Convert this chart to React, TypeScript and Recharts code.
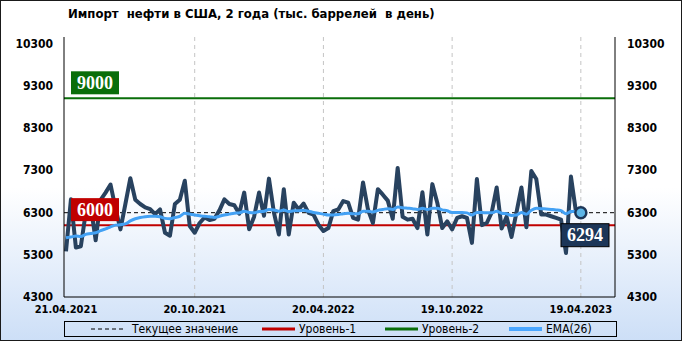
import React from "react";
import {
  LineChart,
  Line,
  XAxis,
  YAxis,
  CartesianGrid,
  ReferenceLine,
  ReferenceDot,
} from "recharts";

// weekly US crude imports, thousand barrels/day
const importValues = [
  5380, 6610, 5470, 5500, 6300, 6450, 5640, 6600, 6770, 6960,
  6400, 5900, 6500, 7110, 6600, 6500, 6420, 6380, 6260, 6370,
  5820, 5750, 6500, 6600, 7050, 5980, 5820, 6050, 6180, 6120,
  6150, 6350, 6610, 6500, 6470, 6270, 6770, 5900, 6200, 6770,
  6220, 7100, 6300, 5780, 6850, 5780, 6530, 6370, 6510, 6290,
  6250, 6010, 5860, 5930, 6330, 6370, 6570, 6530, 6170, 6130,
  7010, 6370, 6050, 6850, 6720, 6580, 6150, 7350, 6200, 6130,
  6150, 5930, 6780, 5780, 6970, 6530, 5930, 6090, 5900, 6170,
  6210, 6170, 5580, 7090, 6000, 6050, 6300, 6890, 5920, 6200,
  5720, 6300, 6890, 5950, 7280, 7090, 6250, 6250, 6210, 6170,
  6130, 5340, 7150, 6330, 6294,
];

// EMA(26) as drawn
const emaValues = [
  5700, 5720, 5740, 5730, 5780, 5800, 5820, 5870, 5910, 5960,
  6000, 6010, 6030, 6100, 6150, 6180, 6200, 6210, 6210, 6200,
  6160, 6150, 6180, 6210, 6280, 6260, 6240, 6220, 6210, 6200,
  6180, 6210, 6240, 6260, 6280, 6290, 6330, 6300, 6290, 6320,
  6330, 6370, 6360, 6330, 6360, 6320, 6340, 6340, 6350, 6330,
  6300, 6280, 6260, 6240, 6240, 6250, 6270, 6280, 6270, 6270,
  6330, 6330, 6310, 6350, 6370, 6390, 6370, 6430, 6410, 6400,
  6390, 6370, 6400, 6370, 6400, 6400, 6360, 6340, 6300, 6300,
  6300, 6290, 6240, 6300, 6300, 6290, 6290, 6330, 6280, 6270,
  6230, 6240, 6300, 6260, 6350, 6400, 6390, 6380, 6370, 6360,
  6340, 6270, 6320, 6320, 6310,
];

const dateTicks = [0, 26, 52, 78, 104];
const dateLabels = ["21.04.2021", "20.10.2021", "20.04.2022", "19.10.2022", "19.04.2023"];
const yTicks = [4300, 5300, 6300, 7300, 8300, 9300, 10300];

const level1 = 6000;
const level2 = 9000;
const currentValue = 6294;
const lastIndex = importValues.length - 1;

const data = importValues.map((v, i) => ({ i, value: v, ema: emaValues[i] }));

const tickFont = { fontFamily: "DejaVu Sans Condensed", fontWeight: "bold", fill: "#000" };

function BoxLabel(props: any) {
  const { viewBox, text, fill, place } = props;
  const w = 48;
  const h = 23;
  let x = viewBox.x + 7;
  let y = viewBox.y - h - 4;
  if (place === "right") {
    x = viewBox.x + viewBox.width - w - 6;
    y = viewBox.y + 11;
  }
  return (
    <g>
      <rect x={x} y={y} width={w} height={h} fill={fill} stroke={place === "right" ? "#000" : "none"} />
      <text
        x={x + w / 2}
        y={y + h / 2 + 6}
        textAnchor="middle"
        fill="#fff"
        fontFamily="Liberation Serif"
        fontWeight="bold"
        fontSize={18}
      >
        {text}
      </text>
    </g>
  );
}

function LegendItem({ left, color, dashed, thick, label }: any) {
  return (
    <div style={{ position: "absolute", left, top: 0, height: 14, display: "flex", alignItems: "center" }}>
      <svg width={36} height={6}>
        <line
          x1={1}
          y1={3}
          x2={34}
          y2={3}
          stroke={color}
          strokeWidth={thick ? 4 : dashed ? 1 : 3}
          strokeDasharray={dashed ? "4 3" : undefined}
        />
      </svg>
      <span style={{ marginLeft: dashed ? 6 : 2, fontSize: 12 }}>{label}</span>
    </div>
  );
}

export default function App() {
  return (
    <div
      style={{
        position: "absolute",
        left: 0,
        top: 0,
        width: 682,
        height: 341,
        boxSizing: "border-box",
        border: "1px solid #1a1a1a",
        background: "linear-gradient(to bottom, #ffffff 0%, #ffffff 55%, #cddff7 100%)",
        fontFamily: "DejaVu Sans Condensed",
      }}
    >
      <div
        style={{
          position: "absolute",
          left: 67,
          top: 5,
          fontSize: 13,
          fontWeight: "bold",
          whiteSpace: "pre",
        }}
      >
        {"Импорт  нефти в США, 2 года (тыс. баррелей  в день)"}
      </div>
      <div style={{ position: "absolute", left: -1, top: -1 }}>
        <LineChart width={682} height={341} data={data} margin={{ top: 37, right: 0, left: 0, bottom: 0 }}>
          <CartesianGrid stroke="#c4c4c4" strokeDasharray="4 4" horizontalValues={yTicks} verticalValues={dateTicks.slice(1)} />
          <XAxis
            dataKey="i"
            type="number"
            domain={[-0.4, 110.9]}
            ticks={dateTicks}
            tickFormatter={(v: number) => dateLabels[dateTicks.indexOf(v)]}
            tick={{ ...tickFont, fontSize: 11 }}
            tickLine={false}
            axisLine={{ stroke: "#000" }}
            height={44}
            interval={0}
            allowDataOverflow
          />
          <XAxis xAxisId="top" orientation="top" dataKey="i" type="number" domain={[-0.4, 110.9]} tick={false} tickLine={false} axisLine={{ stroke: "#000" }} height={0} />
          <YAxis
            yAxisId="left"
            domain={[4300, 10450]}
            ticks={yTicks}
            tick={{ ...tickFont, fontSize: 12 }}
            tickLine={false}
            tickMargin={5}
            axisLine={{ stroke: "#000" }}
            width={64}
            allowDataOverflow
          />
          <YAxis
            yAxisId="right"
            orientation="right"
            domain={[4300, 10450]}
            ticks={yTicks}
            tick={{ ...tickFont, fontSize: 12, textAnchor: "start" }}
            tickLine={false}
            tickMargin={6}
            axisLine={{ stroke: "#000" }}
            width={67}
            allowDataOverflow
          />
          <ReferenceLine
            yAxisId="left"
            y={level2}
            stroke="#0a6e0a"
            strokeWidth={2}
            label={<BoxLabel text={String(level2)} fill="#0a6e0a" />}
          />
          <ReferenceLine yAxisId="left" y={currentValue} stroke="#000" strokeDasharray="4 3" />
          <ReferenceLine yAxisId="left" y={level1} stroke="#c00000" strokeWidth={2} />
          <Line
            yAxisId="left"
            dataKey="value"
            stroke="#28425f"
            strokeWidth={4}
            strokeLinejoin="round"
            dot={false}
            isAnimationActive={false}
          />
          <Line
            yAxisId="left"
            dataKey="ema"
            type="monotone"
            stroke="#43a1f4"
            strokeWidth={3}
            dot={false}
            isAnimationActive={false}
          />
          <ReferenceLine
            yAxisId="left"
            y={level1}
            stroke="none"
            label={<BoxLabel text={String(level1)} fill="#c00000" />}
          />
          <ReferenceLine
            yAxisId="left"
            y={currentValue}
            stroke="none"
            label={<BoxLabel text={String(currentValue)} fill="#1c3658" place="right" />}
          />
          <ReferenceDot yAxisId="left" x={lastIndex} y={currentValue} r={5.5} fill="#5db5e6" stroke="#1c3658" strokeWidth={2.5} />
        </LineChart>
      </div>
      <div
        style={{
          position: "absolute",
          left: 63,
          top: 320,
          width: 551,
          height: 14,
          border: "1px solid #000",
          fontSize: 12,
        }}
      >
        <LegendItem left={25} color="#000" dashed label="Текущее значение" />
        <LegendItem left={196} color="#c00000" label="Уровень-1" />
        <LegendItem left={319} color="#0a6e0a" label="Уровень-2" />
        <LegendItem left={443} color="#4aa6ff" thick label="EMA(26)" />
      </div>
    </div>
  );
}
